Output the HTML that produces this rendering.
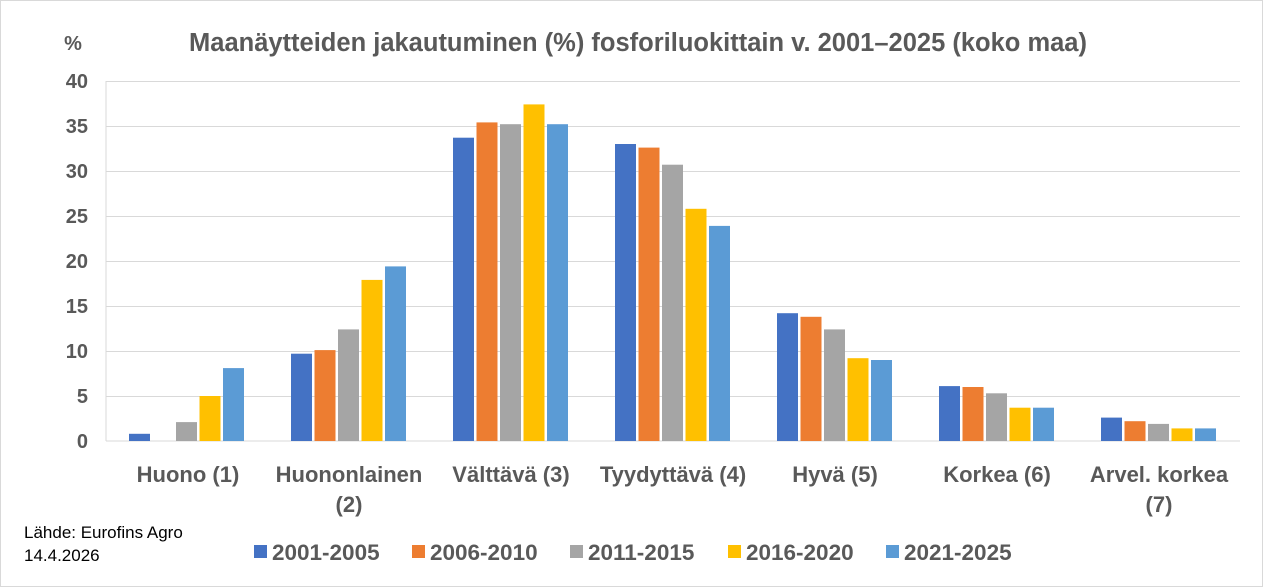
<!DOCTYPE html>
<html><head><meta charset="utf-8"><style>
html,body{margin:0;padding:0;background:#fff;}
svg{display:block;font-family:"Liberation Sans",sans-serif;}
</style></head><body>
<svg width="1263" height="587" viewBox="0 0 1263 587">
<rect x="0.5" y="0.5" width="1262" height="586" fill="#fff" stroke="#d9d9d9"/>
<g stroke="#d9d9d9" stroke-width="1">
<line x1="106" y1="81.5" x2="1240" y2="81.5"/>
<line x1="106" y1="126.5" x2="1240" y2="126.5"/>
<line x1="106" y1="171.5" x2="1240" y2="171.5"/>
<line x1="106" y1="216.5" x2="1240" y2="216.5"/>
<line x1="106" y1="261.5" x2="1240" y2="261.5"/>
<line x1="106" y1="306.5" x2="1240" y2="306.5"/>
<line x1="106" y1="351.5" x2="1240" y2="351.5"/>
<line x1="106" y1="396.5" x2="1240" y2="396.5"/>
<line x1="106" y1="441" x2="1240" y2="441"/>
<line x1="106" y1="81" x2="106" y2="441"/>
</g>
<g transform="translate(0,441) scale(1,-1)">
<g fill="#4472C4"><rect x="129" y="0" width="21" height="7.2"/><rect x="291" width="21" height="87.3"/><rect x="453" width="21" height="303.3"/><rect x="615" width="21" height="297"/><rect x="777" width="21" height="127.8"/><rect x="939" width="21" height="54.9"/><rect x="1101" width="21" height="23.4"/></g>
<g fill="#ED7D31"><rect x="314.5" width="21" height="90.9"/><rect x="476.5" width="21" height="318.6"/><rect x="638.5" width="21" height="293.4"/><rect x="800.5" width="21" height="124.2"/><rect x="962.5" width="21" height="54"/><rect x="1124.5" width="21" height="19.8"/></g>
<g fill="#A5A5A5"><rect x="176" width="21" height="18.9"/><rect x="338" width="21" height="111.6"/><rect x="500" width="21" height="316.8"/><rect x="662" width="21" height="276.3"/><rect x="824" width="21" height="111.6"/><rect x="986" width="21" height="47.7"/><rect x="1148" width="21" height="17.1"/></g>
<g fill="#FFC000"><rect x="199.5" width="21" height="45"/><rect x="361.5" width="21" height="161.1"/><rect x="523.5" width="21" height="336.6"/><rect x="685.5" width="21" height="232.2"/><rect x="847.5" width="21" height="82.8"/><rect x="1009.5" width="21" height="33.3"/><rect x="1171.5" width="21" height="12.6"/></g>
<g fill="#5B9BD5"><rect x="223" width="21" height="72.9"/><rect x="385" width="21" height="174.6"/><rect x="547" width="21" height="316.8"/><rect x="709" width="21" height="215.1"/><rect x="871" width="21" height="81"/><rect x="1033" width="21" height="33.3"/><rect x="1195" width="21" height="12.6"/></g>
</g>
<g fill="#595959" font-weight="bold" font-size="20" text-anchor="end">
<text x="88" y="88">40</text><text x="88" y="133">35</text><text x="88" y="178">30</text><text x="88" y="223">25</text><text x="88" y="268">20</text><text x="88" y="313">15</text><text x="88" y="358">10</text><text x="88" y="403">5</text><text x="88" y="448">0</text>
</g>
<text x="73" y="50" fill="#595959" font-weight="bold" font-size="20" text-anchor="middle">%</text>
<text x="638" y="51" fill="#595959" font-weight="bold" font-size="25.5" text-anchor="middle">Maanäytteiden jakautuminen (%) fosforiluokittain v. 2001–2025 (koko maa)</text>
<g fill="#595959" font-weight="bold" font-size="22" text-anchor="middle">
<text x="188" y="482">Huono (1)</text>
<text x="349" y="482">Huononlainen</text><text x="349" y="512">(2)</text>
<text x="511" y="482">Välttävä (3)</text>
<text x="673" y="482">Tyydyttävä (4)</text>
<text x="835" y="482">Hyvä (5)</text>
<text x="997" y="482">Korkea (6)</text>
<text x="1159" y="482">Arvel. korkea</text><text x="1159" y="512">(7)</text>
</g>
<g fill="#000" font-size="17"><text x="24" y="538">Lähde: Eurofins Agro</text><text x="24" y="561">14.4.2026</text></g>
<g font-size="22.5" font-weight="bold" fill="#595959">
<rect x="254" y="545" width="13" height="13" fill="#4472C4"/><text x="272" y="560">2001-2005</text>
<rect x="412" y="545" width="13" height="13" fill="#ED7D31"/><text x="430" y="560">2006-2010</text>
<rect x="570" y="545" width="13" height="13" fill="#A5A5A5"/><text x="588" y="560">2011-2015</text>
<rect x="728" y="545" width="13" height="13" fill="#FFC000"/><text x="746" y="560">2016-2020</text>
<rect x="886" y="545" width="13" height="13" fill="#5B9BD5"/><text x="904" y="560">2021-2025</text>
</g>
</svg>
</body></html>
